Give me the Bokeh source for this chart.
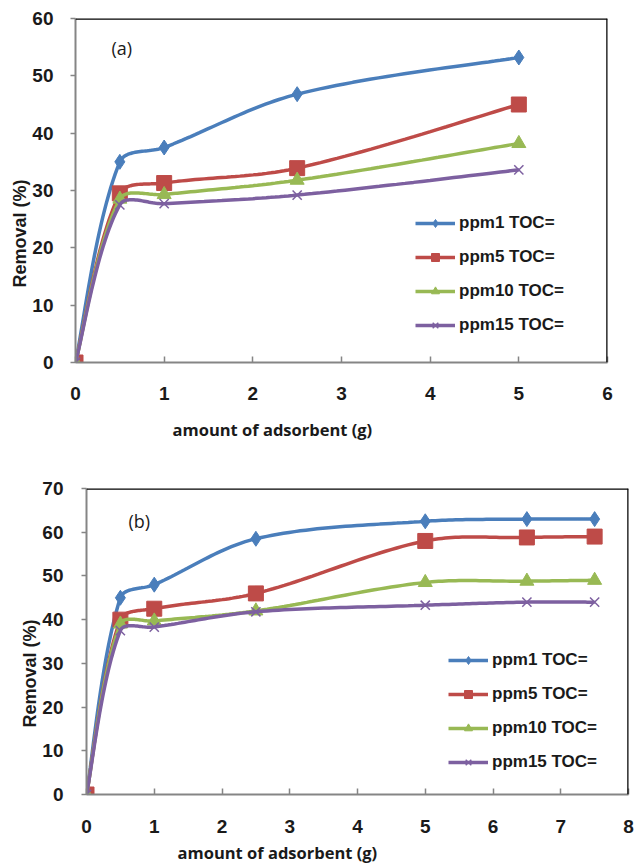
import math
from bokeh.plotting import figure
from bokeh.models import Span, Label, Legend, Title
from bokeh.embed import file_html
from bokeh.resources import INLINE

# Series labels and styles
series_names = ["ppm1 TOC=", "ppm5 TOC=", "ppm10 TOC=", "ppm15 TOC="]
colors = ["#4A7EBB", "#BE4B48", "#98B954", "#7D60A0"]
markers = ["diamond", "square", "triangle", "x"]
marker_sizes = [15, 15, 14, 13]

# Panel (a)
amount_a = [0, 0.5, 1, 2.5, 5]
ppm1_a = [0, 35.0, 37.5, 46.8, 53.2]
ppm5_a = [0, 29.5, 31.3, 33.9, 45.0]
ppm10_a = [0, 28.5, 29.3, 31.8, 38.2]
ppm15_a = [0, 27.5, 27.7, 29.2, 33.6]

# Panel (b)
amount_b = [0, 0.5, 1, 2.5, 5, 6.5, 7.5]
ppm1_b = [0, 45.0, 48.0, 58.5, 62.5, 63.0, 63.0]
ppm5_b = [0, 40.0, 42.5, 46.0, 58.0, 58.8, 59.0]
ppm10_b = [0, 39.0, 39.7, 42.0, 48.5, 48.8, 49.0]
ppm15_b = [0, 37.5, 38.3, 41.8, 43.3, 44.0, 44.0]

TICK_FONT = "Liberation Sans"
TITLE_FONT = "Open Sans"


def smooth(xs, ys, kx, ky, n=30):
    """Smoothed line: cubic Bezier segments whose handles follow the neighbouring
    points and are scaled by the on-screen segment lengths (kx, ky = px per unit)."""
    P = [(x * kx, y * ky) for x, y in zip(xs, ys)]
    m = len(P)

    def dist(a, b):
        return math.hypot(a[0] - b[0], a[1] - b[1])

    def handles(i):
        prev = P[i - 1] if i > 0 else P[i]
        nxt = P[i + 1] if i < m - 1 else P[i]
        T = (nxt[0] - prev[0], nxt[1] - prev[1])
        if i == 0 or i == m - 1:
            return (T[0] / 6, T[1] / 6), (T[0] / 6, T[1] / 6)
        d_in = dist(prev, P[i])
        d_out = dist(P[i], nxt)
        s = d_in + d_out
        fi = d_in / s / 3
        fo = d_out / s / 3
        return (T[0] * fi, T[1] * fi), (T[0] * fo, T[1] * fo)

    H = [handles(i) for i in range(m)]
    ox, oy = [], []
    for i in range(m - 1):
        p0 = P[i]
        p3 = P[i + 1]
        p1 = (p0[0] + H[i][1][0], p0[1] + H[i][1][1])
        p2 = (p3[0] - H[i + 1][0][0], p3[1] - H[i + 1][0][1])
        last = (i == m - 2)
        for k in range(n + (1 if last else 0)):
            t = k / n
            u = 1 - t
            bx = u**3 * p0[0] + 3 * u * u * t * p1[0] + 3 * u * t * t * p2[0] + t**3 * p3[0]
            by = u**3 * p0[1] + 3 * u * u * t * p1[1] + 3 * u * t * t * p2[1] + t**3 * p3[1]
            ox.append(bx / kx)
            oy.append(by / ky)
    return ox, oy


def panel(xs, series, xmax, ymax, height, borders, tag, tag_px, legend_xy,
          ytitle_offset, xtitle_offset, xtitle_standoff, ytick_standoff, xtick_standoff):
    left, right, top, bottom = borders
    fw = 634 - left - right
    fh = height - top - bottom
    kx = fw / xmax
    ky = fh / ymax
    p = figure(width=634, height=height, x_range=(0, xmax), y_range=(0, ymax),
               output_backend="svg", toolbar_location=None,
               min_border_left=left, min_border_right=right,
               min_border_top=top, min_border_bottom=bottom)
    p.outline_line_color = None
    p.grid.grid_line_color = None
    p.background_fill_color = "white"
    p.border_fill_color = "white"

    for ax in (p.xaxis[0], p.yaxis[0]):
        ax.axis_line_color = "#858585"
        ax.axis_line_width = 2
        ax.major_tick_line_color = "#858585"
        ax.major_tick_line_width = 1.5
        ax.minor_tick_line_color = None
        ax.major_label_text_font = TICK_FONT
        ax.major_label_text_font_style = "bold"
        ax.major_label_text_font_size = "19px"
        ax.major_label_text_color = "#1a1a1a"

    p.xaxis.ticker = list(range(0, xmax + 1))
    p.yaxis.ticker = list(range(0, ymax + 1, 10))
    p.xaxis.major_tick_in = 6
    p.xaxis.major_tick_out = 0
    p.yaxis.major_tick_in = 0
    p.yaxis.major_tick_out = 5
    p.xaxis.major_label_standoff = xtick_standoff
    p.yaxis.major_label_standoff = ytick_standoff

    # axis titles as side titles so they can sit off-centre
    p.add_layout(Title(text="Removal (%)", align="left", offset=ytitle_offset,
                       standoff=0, text_font=TICK_FONT, text_font_style="bold",
                       text_font_size="18px", text_color="#1a1a1a"), "left")
    p.add_layout(Title(text="amount of adsorbent (g)", align="left", offset=xtitle_offset,
                       standoff=xtitle_standoff, text_font=TITLE_FONT,
                       text_font_style="bold", text_font_size="16.5px",
                       text_color="#1a1a1a"), "below")

    # black frame on top and right
    p.add_layout(Span(location=ymax, dimension="width", line_color="black", line_width=2.5))
    p.add_layout(Span(location=xmax, dimension="height", line_color="black", line_width=2.5))

    items = []
    for name, ys, c, m, s in zip(series_names, series, colors, markers, marker_sizes):
        sx, sy = smooth(xs, ys, kx, ky)
        r1 = p.line(sx, sy, line_color=c, line_width=3.5)
        r2 = p.scatter(xs, ys, marker=m, size=s, fill_color=c, line_color=c,
                       line_width=1.5 if m == "x" else 1)
        items.append((name, [r1, r2]))

    legend = Legend(items=items, location=legend_xy, orientation="vertical")
    legend.border_line_color = None
    legend.background_fill_alpha = 0
    legend.padding = 0
    legend.margin = 0
    legend.spacing = 14
    legend.glyph_width = 40
    legend.glyph_height = 20
    legend.label_height = 20
    legend.label_standoff = 4
    legend.label_text_font = TICK_FONT
    legend.label_text_font_style = "bold"
    legend.label_text_font_size = "17px"
    legend.label_text_color = "#1a1a1a"
    p.add_layout(legend)

    p.add_layout(Label(x=tag_px[0] / kx, y=tag_px[1] / ky, text=tag, text_font=TITLE_FONT,
                       text_font_size="18px", text_color="#1a1a1a",
                       text_baseline="middle"))
    return p


pa = panel(amount_a, [ppm1_a, ppm5_a, ppm10_a, ppm15_a], 6, 60, 458,
           (75, 27, 18, 96), "(a)", (36, 315), (340, 27),
           75, 97, 26, 17, 24)
pb = panel(amount_b, [ppm1_b, ppm5_b, ppm10_b, ppm15_b], 8, 70, 410,
           (86, 6, 30, 74), "(b)", (42, 274), (362, 22),
           67, 91, 6, 18, 25)

open("out.html", "w").write(file_html([pa, pb], INLINE))
